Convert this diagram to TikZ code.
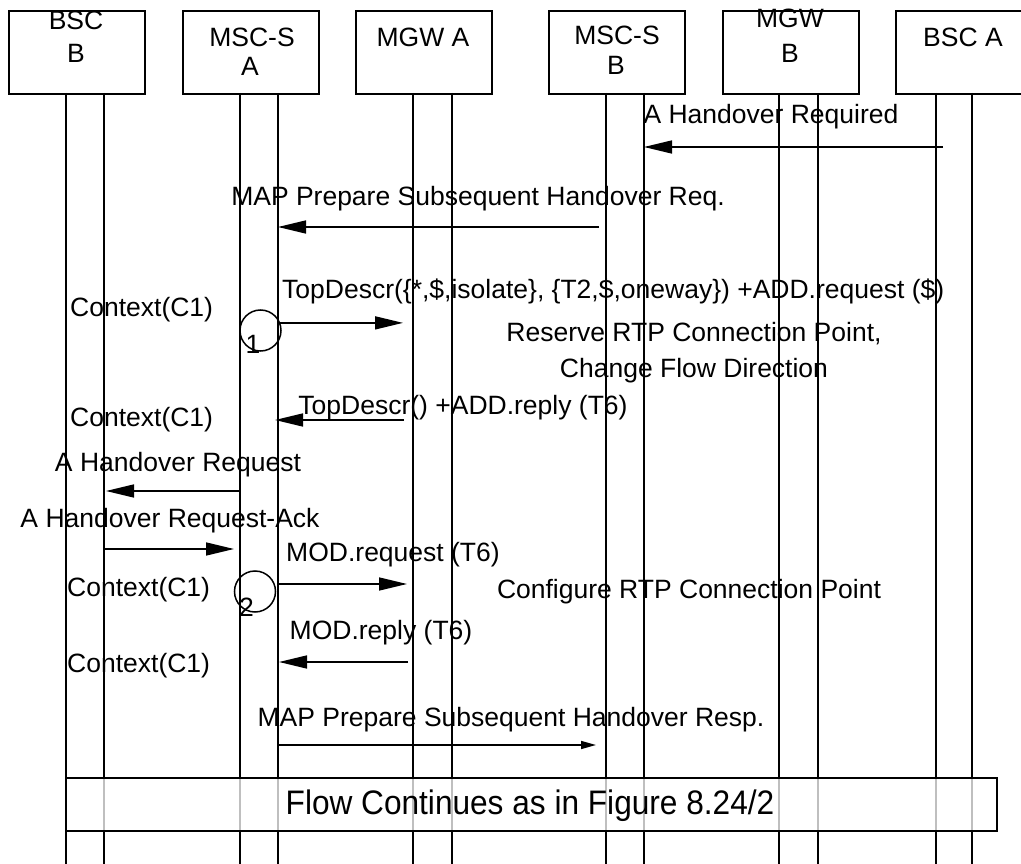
\documentclass[tikz,border=0pt]{standalone}
\usepackage{fontspec}
\setmainfont{Liberation Sans}
\newfontfamily\narrowfont[FakeStretch=0.93]{Liberation Sans}
\usetikzlibrary{arrows.meta}
\begin{document}
\begin{tikzpicture}[x=1pt,y=-1pt,
  every node/.style={inner sep=0pt, font=\fontsize{26.5}{30}\selectfont},
  ent/.style={draw, line width=1.6pt, minimum width=136pt, minimum height=83pt, anchor=north west},
  hdr/.style={anchor=base},
  lbl/.style={text height=19pt, text depth=0pt},
  ctx/.style={lbl, anchor=west},
  life/.style={line width=1.5pt},
  msg/.style={line width=1.6pt, -{Triangle[length=28pt,width=13pt]}},
  msgs/.style={line width=1.6pt, -{Triangle[length=15pt,width=8pt]}},
  cnum/.style={draw, circle, line width=1.5pt, minimum size=41pt},
  flowbox/.style={draw, line width=1.8pt, fill=white, fill opacity=0.75, minimum width=931pt, minimum height=53pt}
]
\useasboundingbox (0,0) rectangle (1021,864);
\clip (0,0) rectangle (1021,864);

% entity boxes
\node[ent] (bscb) at (8,10) {};
\node[ent] (mscsa) at (182,10) {};
\node[ent] (mgwa) at (355,10) {};
\node[ent] (mscsb) at (548,10) {};
\node[ent] (mgwb) at (722,10) {};
\node[ent] (bsca) at (895,10) {};

% entity names
\node[hdr] (bscb1t) at (76,30) {BSC};
\node[hdr] (bscb2t) at (76,63) {B};
\node[hdr] (mscsa1t) at (252,47) {MSC-S};
\node[hdr] (mscsa2t) at (250,76) {A};
\node[hdr] (mgwat) at (423,47) {MGW A};
\node[hdr] (mscsb1t) at (617,45) {MSC-S};
\node[hdr] (mscsb2t) at (616,75) {B};
\node[hdr] (mgwb1t) at (790,28) {MGW};
\node[hdr] (mgwb2t) at (790,63) {B};
\node[hdr] (bscat) at (963,47) {BSC A};

% lifelines
\coordinate (bottom) at (0,864);
\foreach \n/\x in {bscbL/66, bscbR/104, mscsaL/240, mscsaR/278, mgwaL/413, mgwaR/452, mscsbL/606, mscsbR/644, mgwbL/779, mgwbR/818, bscaL/936, bscaR/972}{
  \coordinate (\n) at (\x,93);
  \draw[life] (\n) -- (\n |- bottom);
}

% 1 A Handover Required
\node[lbl] (l1) at (771,114.5) {A Handover Required};
\coordinate (m1s) at (943,147);
\coordinate (m1e) at (644,147);
\draw[msg] (m1s) -- (m1e);

% 2 MAP Prepare Subsequent Handover Req.
\node[lbl] (l2) at (478,196) {MAP Prepare Subsequent Handover Req.};
\coordinate (m2s) at (599,227);
\coordinate (m2e) at (278,227);
\draw[msg] (m2s) -- (m2e);

% 3 TopDescr ADD.request
\node[lbl, anchor=west] (l3) at (282,289) {TopDescr(\{*,\$,isolate\}, \{T2,\$,oneway\}) +ADD.request (\$)};
\node[ctx] (ctx1) at (70,306.5) {Context(C1)};
\node[cnum] (c1) at (260.5,330.5) {};
\node (c1n) at (253,344) {1};
\coordinate (m3e) at (403,323);
\draw[msg] (c1.21) -- (c1.21 -| m3e);
\node[align=center, font=\fontsize{26.5}{36}\selectfont] (l3b) at (694,353) {Reserve RTP Connection Point,\\Change Flow Direction};

% 4 TopDescr ADD.reply
\node[lbl] (l4) at (463,405) {TopDescr() +ADD.reply (T6)};
\node[ctx] (ctx2) at (70,417) {Context(C1)};
\coordinate (m4s) at (404,420);
\coordinate (m4e) at (275,420);
\draw[msg] (m4s) -- (m4e);

% 5 A Handover Request
\node[lbl] (l5) at (178,462) {A Handover Request};
\coordinate (m5s) at (240,491);
\coordinate (m5e) at (106,491);
\draw[msg] (m5s) -- (m5e);

% 6 A Handover Request-Ack
\node[lbl] (l6) at (170,518) {A Handover Request-Ack};
\coordinate (m6s) at (104,549);
\coordinate (m6e) at (234,549);
\draw[msg] (m6s) -- (m6e);

% 7 MOD.request
\node[lbl] (l7) at (393,552) {MOD.request (T6)};
\node[ctx] (ctx3) at (67,587) {Context(C1)};
\node[cnum] (c2) at (255,591.5) {};
\node (c2n) at (246.5,607) {2};
\coordinate (m7s) at (278,584);
\coordinate (m7e) at (407,584);
\draw[msg] (m7s) -- (m7e);
\node[lbl] (l7b) at (689,589) {Configure RTP Connection Point};

% 8 MOD.reply
\node[lbl] (l8) at (381,630) {MOD.reply (T6)};
\node[ctx] (ctx4) at (67,662.5) {Context(C1)};
\coordinate (m8s) at (408,662);
\coordinate (m8e) at (279,662);
\draw[msg] (m8s) -- (m8e);

% 9 MAP Prepare Subsequent Handover Resp.
\node[lbl] (l9) at (511,717) {MAP Prepare Subsequent Handover Resp.};
\coordinate (m9s) at (278,745);
\coordinate (m9e) at (596,745);
\draw[msgs] (m9s) -- (m9e);

% flow continues
\node[flowbox] (flow) at (531.5,804.5) {};
\node[text height=24.3pt, text depth=0pt, font=\narrowfont\fontsize{34}{38}\selectfont] (flowt) at (530,802.5) {Flow Continues as in Figure 8.24/2};
\end{tikzpicture}
\end{document}
